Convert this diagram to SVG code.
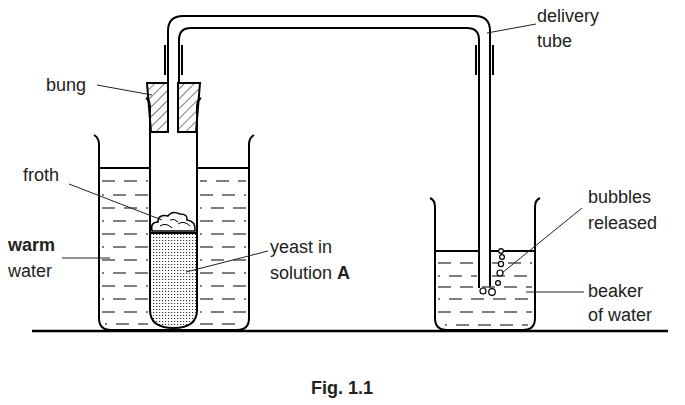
<svg xmlns="http://www.w3.org/2000/svg" width="685" height="405" viewBox="0 0 685 405">
<defs>
<style>
.o{fill:none;stroke:#000;stroke-width:2}
.t{font-family:"Liberation Sans",Arial,sans-serif;font-size:18px;fill:#222}
.b{font-weight:bold}
.l{stroke:#222;stroke-width:1}
.w{stroke:#555;stroke-width:1.5;stroke-dasharray:13 9}
</style>
<pattern id="h" width="7" height="7" patternUnits="userSpaceOnUse" patternTransform="rotate(45)"><line x1="0" y1="0" x2="0" y2="7" stroke="#000" stroke-width="1"/></pattern>
<pattern id="d" width="3" height="3" patternUnits="userSpaceOnUse"><rect width="1.2" height="1" fill="#333"/></pattern>
</defs>
<rect width="685" height="405" fill="#fff"/>
<g id="ground"><line x1="32" y1="331" x2="668" y2="331" stroke="#000" stroke-width="2.5"/></g>
<g id="left-beaker">
<g class="w">
<line x1="102" y1="181" x2="148" y2="181"/><line x1="200" y1="181" x2="246" y2="181" stroke-dashoffset="6"/>
<line x1="102" y1="195" x2="148" y2="195" stroke-dashoffset="11"/><line x1="200" y1="195" x2="246" y2="195"/>
<line x1="102" y1="208" x2="148" y2="208"/><line x1="200" y1="208" x2="246" y2="208" stroke-dashoffset="11"/>
<line x1="102" y1="221" x2="148" y2="221" stroke-dashoffset="11"/><line x1="200" y1="221" x2="246" y2="221"/>
<line x1="102" y1="234" x2="148" y2="234"/><line x1="200" y1="234" x2="246" y2="234" stroke-dashoffset="11"/>
<line x1="102" y1="247" x2="148" y2="247" stroke-dashoffset="11"/><line x1="200" y1="247" x2="246" y2="247"/>
<line x1="102" y1="260" x2="148" y2="260"/><line x1="200" y1="260" x2="246" y2="260" stroke-dashoffset="11"/>
<line x1="102" y1="273" x2="148" y2="273" stroke-dashoffset="11"/><line x1="200" y1="273" x2="246" y2="273"/>
<line x1="102" y1="286" x2="148" y2="286"/><line x1="200" y1="286" x2="246" y2="286" stroke-dashoffset="11"/>
<line x1="102" y1="299" x2="148" y2="299" stroke-dashoffset="11"/><line x1="200" y1="299" x2="246" y2="299"/>
<line x1="102" y1="312" x2="148" y2="312"/><line x1="200" y1="312" x2="246" y2="312" stroke-dashoffset="11"/>
<line x1="105" y1="324" x2="148" y2="324" stroke-dashoffset="11"/><line x1="200" y1="324" x2="242" y2="324"/>
</g>
<path class="o" d="M94 135 Q99 138 99 144 V318 Q99 330 111 330 H237 Q249 330 249 318 V144 Q249 138 254 135"/>
<line class="o" x1="99" y1="168" x2="150" y2="168"/><line class="o" x1="197" y1="168" x2="249" y2="168"/>
</g>
<g id="test-tube">
<path d="M150 233 H197 V310 Q197 328 173.5 328 Q150 328 150 310 Z" fill="url(#d)" stroke="none"/>
<line class="o" x1="150" y1="233" x2="197" y2="233"/>
<path class="o" d="M146 98 Q150 100 150 108 V310 Q150 328 173.5 328 Q197 328 197 310 V108 Q197 100 201 98"/>
<path d="M152 231 Q150 222 158 222 Q158 214 168 216 Q172 210 180 214 Q188 214 187 220 Q196 221 195 231 Z" fill="#fff" stroke="#000" stroke-width="1.5"/>
<path d="M160 226 Q166 222 172 228 M178 224 Q184 220 190 226 M170 220 Q175 218 178 222" fill="none" stroke="#000" stroke-width="1"/>
</g>
<g id="bung">
<path d="M147 83 H168 V132 H151 Z" fill="url(#h)" stroke="#000" stroke-width="2"/>
<path d="M178 83 H200 L196 132 H178 Z" fill="url(#h)" stroke="#000" stroke-width="2"/>
</g>
<g id="delivery-tube">
<path class="o" d="M168 83 V31 Q168 16 183 16 H475 Q490 16 490 31 V288"/>
<path class="o" d="M179 83 V40 Q179 28 191 28 H467 Q479 28 479 40 V288"/>
<g stroke="#000" stroke-width="2"><line x1="165" y1="45" x2="165" y2="75"/><line x1="182" y1="45" x2="182" y2="75"/><line x1="476" y1="45" x2="476" y2="75"/><line x1="493" y1="45" x2="493" y2="75"/></g>
</g>
<g id="right-beaker">
<g class="w">
<line x1="438" y1="263" x2="477" y2="263"/><line x1="492" y1="263" x2="532" y2="263" stroke-dashoffset="6"/>
<line x1="438" y1="276" x2="477" y2="276" stroke-dashoffset="11"/><line x1="492" y1="276" x2="532" y2="276"/>
<line x1="438" y1="287" x2="532" y2="287"/>
<line x1="438" y1="299" x2="532" y2="299" stroke-dashoffset="11"/>
<line x1="438" y1="312" x2="532" y2="312"/>
<line x1="445" y1="325" x2="528" y2="325" stroke-dashoffset="11"/>
</g>
<path class="o" d="M430 198 Q435 200 435 207 V318 Q435 330 447 330 H523 Q535 330 535 318 V207 Q535 200 540 198"/>
<line class="o" x1="435" y1="251" x2="479" y2="251"/><line class="o" x1="490" y1="251" x2="535" y2="251"/>
<g fill="#fff" stroke="#000" stroke-width="1.2"><circle cx="483" cy="291" r="3"/><circle cx="492" cy="292" r="3.3"/><circle cx="498" cy="283" r="2.4"/><circle cx="500" cy="273" r="3"/><circle cx="501" cy="264" r="2.6"/><circle cx="502" cy="257" r="2.4"/><circle cx="501" cy="251" r="2.4"/></g>
</g>
<g id="connectors">
<line class="l" x1="536" y1="24" x2="487" y2="33"/>
<line class="l" x1="97" y1="85" x2="152" y2="95"/>
<line class="l" x1="69" y1="184" x2="162" y2="220"/>
<line class="l" x1="62" y1="258" x2="110" y2="258"/>
<line class="l" x1="268" y1="251" x2="186" y2="272"/>
<line class="l" x1="582" y1="208" x2="502" y2="273"/>
<line class="l" x1="584" y1="292" x2="526" y2="292"/>
</g>
<g id="labels">
<text class="t" x="537" y="22">delivery</text><text class="t" x="537" y="47">tube</text>
<text class="t" x="46" y="91">bung</text>
<text class="t" x="23" y="181">froth</text>
<text class="t b" x="8" y="251">warm</text><text class="t" x="8" y="277">water</text>
<text class="t" x="270" y="253">yeast in</text><text class="t" x="270" y="279">solution <tspan class="b">A</tspan></text>
<text class="t" x="588" y="203">bubbles</text><text class="t" x="588" y="229">released</text>
<text class="t" x="588" y="297">beaker</text><text class="t" x="588" y="321">of water</text>
<text class="t b" x="342" y="394" text-anchor="middle">Fig. 1.1</text>
</g>
</svg>
